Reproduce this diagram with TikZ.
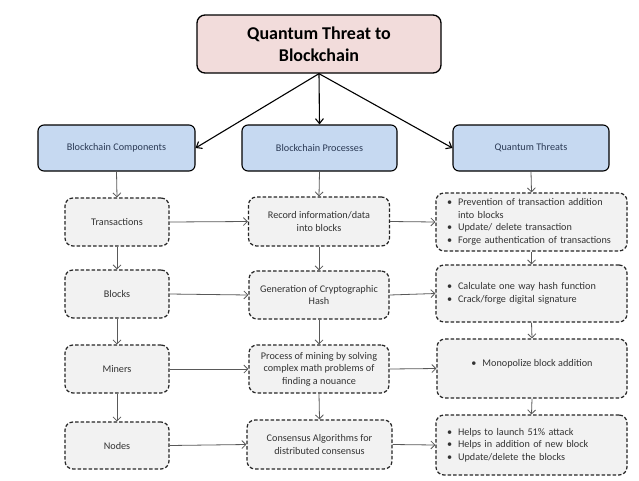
\documentclass[tikz,border=0pt]{standalone}
\usepackage{fontspec}
\setmainfont{Carlito}
\usetikzlibrary{arrows.meta}
\definecolor{titlefill}{HTML}{F2DCDB}
\definecolor{bluefill}{HTML}{C6D9F1}
\definecolor{greyfill}{HTML}{F2F2F2}
\definecolor{bluetext}{HTML}{2B3A55}
\definecolor{greytext}{HTML}{333333}
\definecolor{arrowgrey}{HTML}{595959}
\newcommand{\bul}{\textbullet}
\begin{document}
\begin{tikzpicture}[x=1pt,y=-1pt,
  titlebox/.style={draw=black, line width=1.3pt, fill=titlefill, rounded corners=8pt,
    font=\fontsize{18}{22}\selectfont\bfseries, align=center, inner sep=0pt},
  headbox/.style={draw=black, line width=1.1pt, fill=bluefill, rounded corners=6pt,
    font=\fontsize{10.2}{12}\selectfont, text=bluetext, align=center, inner sep=0pt},
  itembox/.style={draw=black!85, line width=1.25pt, dash pattern=on 3.5pt off 2pt,
    fill=greyfill, rounded corners=8pt, font=\fontsize{10.2}{12.5}\selectfont,
    text=greytext, align=center, inner sep=0pt},
  threatbox/.style={itembox, inner xsep=11pt, text width=169pt, align=left},
  toparrow/.style={draw=black, line width=1.1pt, -{Straight Barb[length=5pt,width=8pt]}},
  flowarrow/.style={draw=arrowgrey, line width=0.8pt, -{Straight Barb[length=4pt,width=8pt]}}
]
\useasboundingbox[fill=white] (0,0) rectangle (639,480);

\node[titlebox, minimum width=244pt, minimum height=58pt] (top) at (319,44)
  {Quantum Threat to\\Blockchain};

\node[headbox, minimum width=157pt, minimum height=46pt] (comp) at (116.5,148) {Blockchain Components};
\node[headbox, minimum width=155pt, minimum height=46pt] (proc) at (319.5,148) {Blockchain Processes};
\node[headbox, minimum width=156pt, minimum height=46pt] (qt) at (531,148) {Quantum Threats};

\node[itembox, minimum width=104pt, minimum height=48pt] (trans) at (117,222) {Transactions};
\node[itembox, minimum width=104pt, minimum height=48pt] (blocks) at (117,294) {Blocks};
\node[itembox, minimum width=104pt, minimum height=48pt] (miners) at (117,369) {Miners};
\node[itembox, minimum width=104pt, minimum height=47pt] (nodes) at (117,445.5) {Nodes};

\node[itembox, minimum width=141pt, minimum height=49pt] (record) at (319,221.5)
  {Record information/data\\into blocks};
\node[itembox, minimum width=140pt, minimum height=48pt] (gen) at (319,295)
  {Generation of Cryptographic\\Hash};
\node[itembox, minimum width=140pt, minimum height=48pt] (mining) at (319,369)
  {Process of mining by solving\\complex math problems of\\finding a nouance};
\node[itembox, minimum width=145pt, minimum height=49pt] (cons) at (319.5,444.5)
  {Consensus Algorithms for\\distributed consensus};

\node[threatbox, minimum height=58pt] (t1) at (531.5,222)
  {\begin{tabular}{@{}p{11pt}@{}l@{}}
   \bul & Prevention of transaction addition\\
        & into blocks\\
   \bul & Update/ delete transaction\\
   \bul & Forge authentication of transactions
   \end{tabular}};
\node[threatbox, minimum height=57pt] (t2) at (531.5,293.5)
  {\begin{tabular}{@{}p{11pt}@{}l@{}}
   \bul & Calculate one way hash function\\
   \bul & Crack/forge digital signature
   \end{tabular}};
\node[itembox, minimum width=190pt, minimum height=59pt] (t3) at (532,368.5)
  {\begin{tabular}{@{}p{11pt}@{}l@{}}
   \bul & Monopolize block addition\\[9pt]
   \end{tabular}};
\node[threatbox, minimum height=60pt] (t4) at (531.5,445)
  {\begin{tabular}{@{}p{11pt}@{}l@{}}
   \bul & Helps to launch 51\% attack\\
   \bul & Helps in addition of new block\\
   \bul & Update/delete the blocks
   \end{tabular}};

\draw[toparrow] (top.south) -- (comp.east);
\draw[toparrow] (top.south) -- (proc.north);
\draw[toparrow] (top.south) -- (qt.west);

\draw[flowarrow] (comp.south) -- (trans.north);
\draw[flowarrow] (trans.south) -- (blocks.north);
\draw[flowarrow] (blocks.south) -- (miners.north);
\draw[flowarrow] (miners.south) -- (nodes.north);

\draw[flowarrow] (proc.south) -- (record.north);
\draw[flowarrow] (record.south) -- (gen.north);
\draw[flowarrow] (gen.south) -- (mining.north);
\draw[flowarrow] (mining.south) -- (cons.north);

\draw[flowarrow] (qt.south) -- (t1.north);
\draw[flowarrow] (t1.south) -- (t2.north);
\draw[flowarrow] (t2.south) -- (t3.north);
\draw[flowarrow] (t3.south) -- (t4.north);

\draw[flowarrow] (trans.east) -- (record.west);
\draw[flowarrow] (blocks.east) -- (gen.west);
\draw[flowarrow] (miners.east) -- (mining.west);
\draw[flowarrow] (nodes.east) -- (cons.west);

\draw[flowarrow] (record.east) -- (t1.west);
\draw[flowarrow] (gen.east) -- (t2.west);
\draw[flowarrow] (mining.east) -- (t3.west);
\draw[flowarrow] (cons.east) -- (t4.west);
\end{tikzpicture}
\end{document}
